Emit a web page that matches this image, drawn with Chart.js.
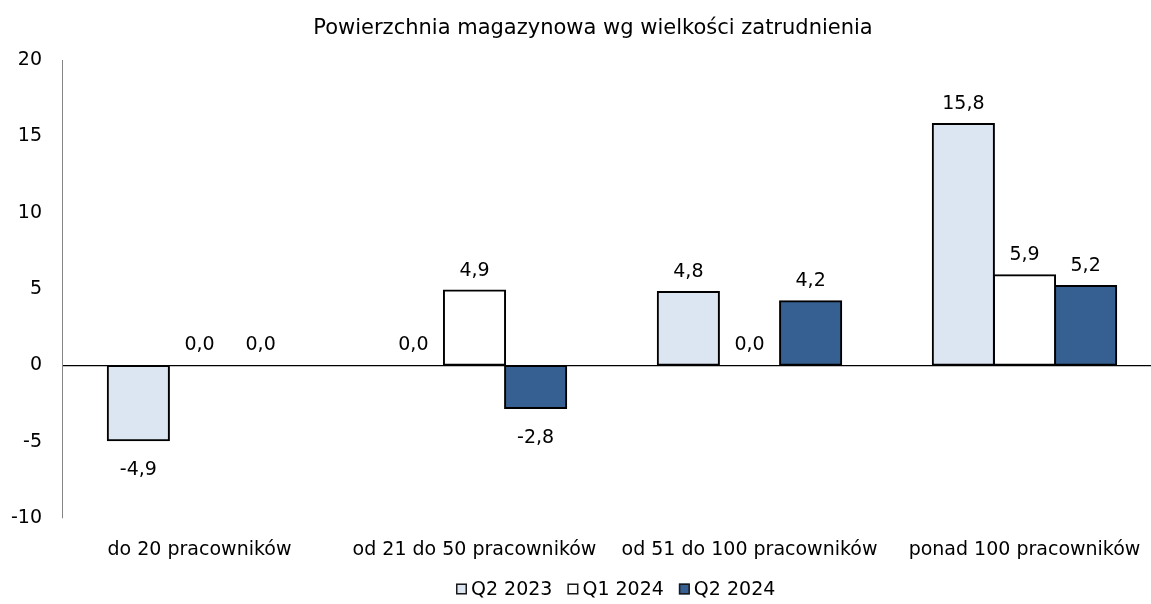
<!DOCTYPE html>
<html>
<head>
<meta charset="utf-8">
<script src="https://cdn.jsdelivr.net/npm/chart.js@4"></script>
<style>
    html, body { margin: 0; padding: 0; background: #fff; overflow: hidden; }
    #wrap { width: 1162px; height: 604px; }
</style>
</head>
<body>
<div id="wrap"><canvas id="chart" width="1162" height="604"></canvas></div>
<script>
// Powierzchnia magazynowa wg wielkości zatrudnienia — grouped bars per period.
const categories = ['do 20 pracowników', 'od 21 do 50 pracowników', 'od 51 do 100 pracowników', 'ponad 100 pracowników'];
const seriesNames = ['Q2 2023', 'Q1 2024', 'Q2 2024'];
const q2_2023 = [-4.9, 0.0, 4.8, 15.8];
const q1_2024 = [0.0, 4.9, 0.0, 5.9];
const q2_2024 = [0.0, -2.8, 4.2, 5.2];
const yTicks = [-10, -5, 0, 5, 10, 15, 20];

const FONT = '"DejaVu Sans", Tahoma, sans-serif';
const fillColors = ['#dce6f2', '#ffffff', '#376092'];

const fmt = v => v.toFixed(1).replace('.', ',');

// Value labels above positive bars, below negative ones.
const valueLabels = {
    id: 'valueLabels',
    afterDatasetsDraw(chart) {
        const ctx = chart.ctx;
        ctx.save();
        ctx.font = '19px ' + FONT;
        ctx.fillStyle = '#000';
        ctx.textAlign = 'center';
        ctx.textBaseline = 'alphabetic';
        chart.data.datasets.forEach((ds, i) => {
            chart.getDatasetMeta(i).data.forEach((bar, j) => {
                const v = ds.data[j];
                const y = v >= 0 ? bar.y - 15 : bar.y + 35;
                ctx.fillText(fmt(v), bar.x, y);
            });
        });
        ctx.restore();
    }
};

// Title and a compact legend (small bordered squares, tight text).
const headerFooter = {
    id: 'headerFooter',
    afterDraw(chart) {
        const ctx = chart.ctx;
        ctx.save();
        ctx.fillStyle = '#000';
        ctx.font = '21px ' + FONT;
        ctx.textAlign = 'center';
        ctx.textBaseline = 'alphabetic';
        ctx.fillText('Powierzchnia magazynowa wg wielkości zatrudnienia', 593, 34);

        ctx.font = '19px ' + FONT;
        const box = 11, gapText = 4, gapItem = 15;
        const widths = seriesNames.map(n => ctx.measureText(n).width);
        const total = widths.reduce((a, w) => a + box + gapText + w, 0) + gapItem * (seriesNames.length - 1);
        let x = Math.round(616 - total / 2);
        const yMid = 589;
        ctx.textAlign = 'left';
        ctx.textBaseline = 'middle';
        seriesNames.forEach((n, i) => {
            ctx.fillStyle = fillColors[i];
            ctx.fillRect(x, yMid - box / 2, box, box);
            ctx.strokeStyle = '#1a1a1a';
            ctx.lineWidth = 1.5;
            ctx.strokeRect(x + 0.75, yMid - box / 2 + 0.75, box - 1.5, box - 1.5);
            ctx.fillStyle = '#000';
            ctx.fillText(n, x + box + gapText, yMid + 1);
            x += box + gapText + widths[i] + gapItem;
        });
        ctx.restore();
    }
};

const series = [q2_2023, q1_2024, q2_2024];

new Chart(document.getElementById('chart'), {
    type: 'bar',
    data: {
        labels: categories,
        datasets: series.map((d, i) => ({
            label: seriesNames[i],
            data: d,
            backgroundColor: fillColors[i],
            borderColor: '#000',
            borderWidth: 2,
            borderSkipped: false,
            inflateAmount: 1,
            categoryPercentage: 0.667,
            barPercentage: 1.0
        }))
    },
    options: {
        responsive: false,
        animation: false,
        layout: { padding: { top: 60, right: 0, bottom: 0, left: 0 } },
        plugins: {
            legend: { display: false },
            title: { display: false },
            tooltip: { enabled: false }
        },
        scales: {
            x: {
                grid: { display: false },
                border: { display: false },
                ticks: { color: '#000', font: { family: FONT, size: 19 }, padding: 13, maxRotation: 0 },
                afterFit: s => { s.height = 86; }
            },
            y: {
                min: yTicks[0],
                max: yTicks[yTicks.length - 1],
                afterBuildTicks: s => { s.ticks = yTicks.map(v => ({ value: v })); },
                grid: {
                    drawTicks: false,
                    color: c => c.tick && c.tick.value === 0 ? '#000' : 'rgba(0,0,0,0)',
                    lineWidth: 1.3
                },
                border: { color: '#868686', width: 1 },
                ticks: { color: '#000', font: { family: FONT, size: 19 }, padding: 20 },
                afterFit: s => { s.width = 62; }
            }
        }
    },
    plugins: [valueLabels, headerFooter]
});
</script>
</body>
</html>
